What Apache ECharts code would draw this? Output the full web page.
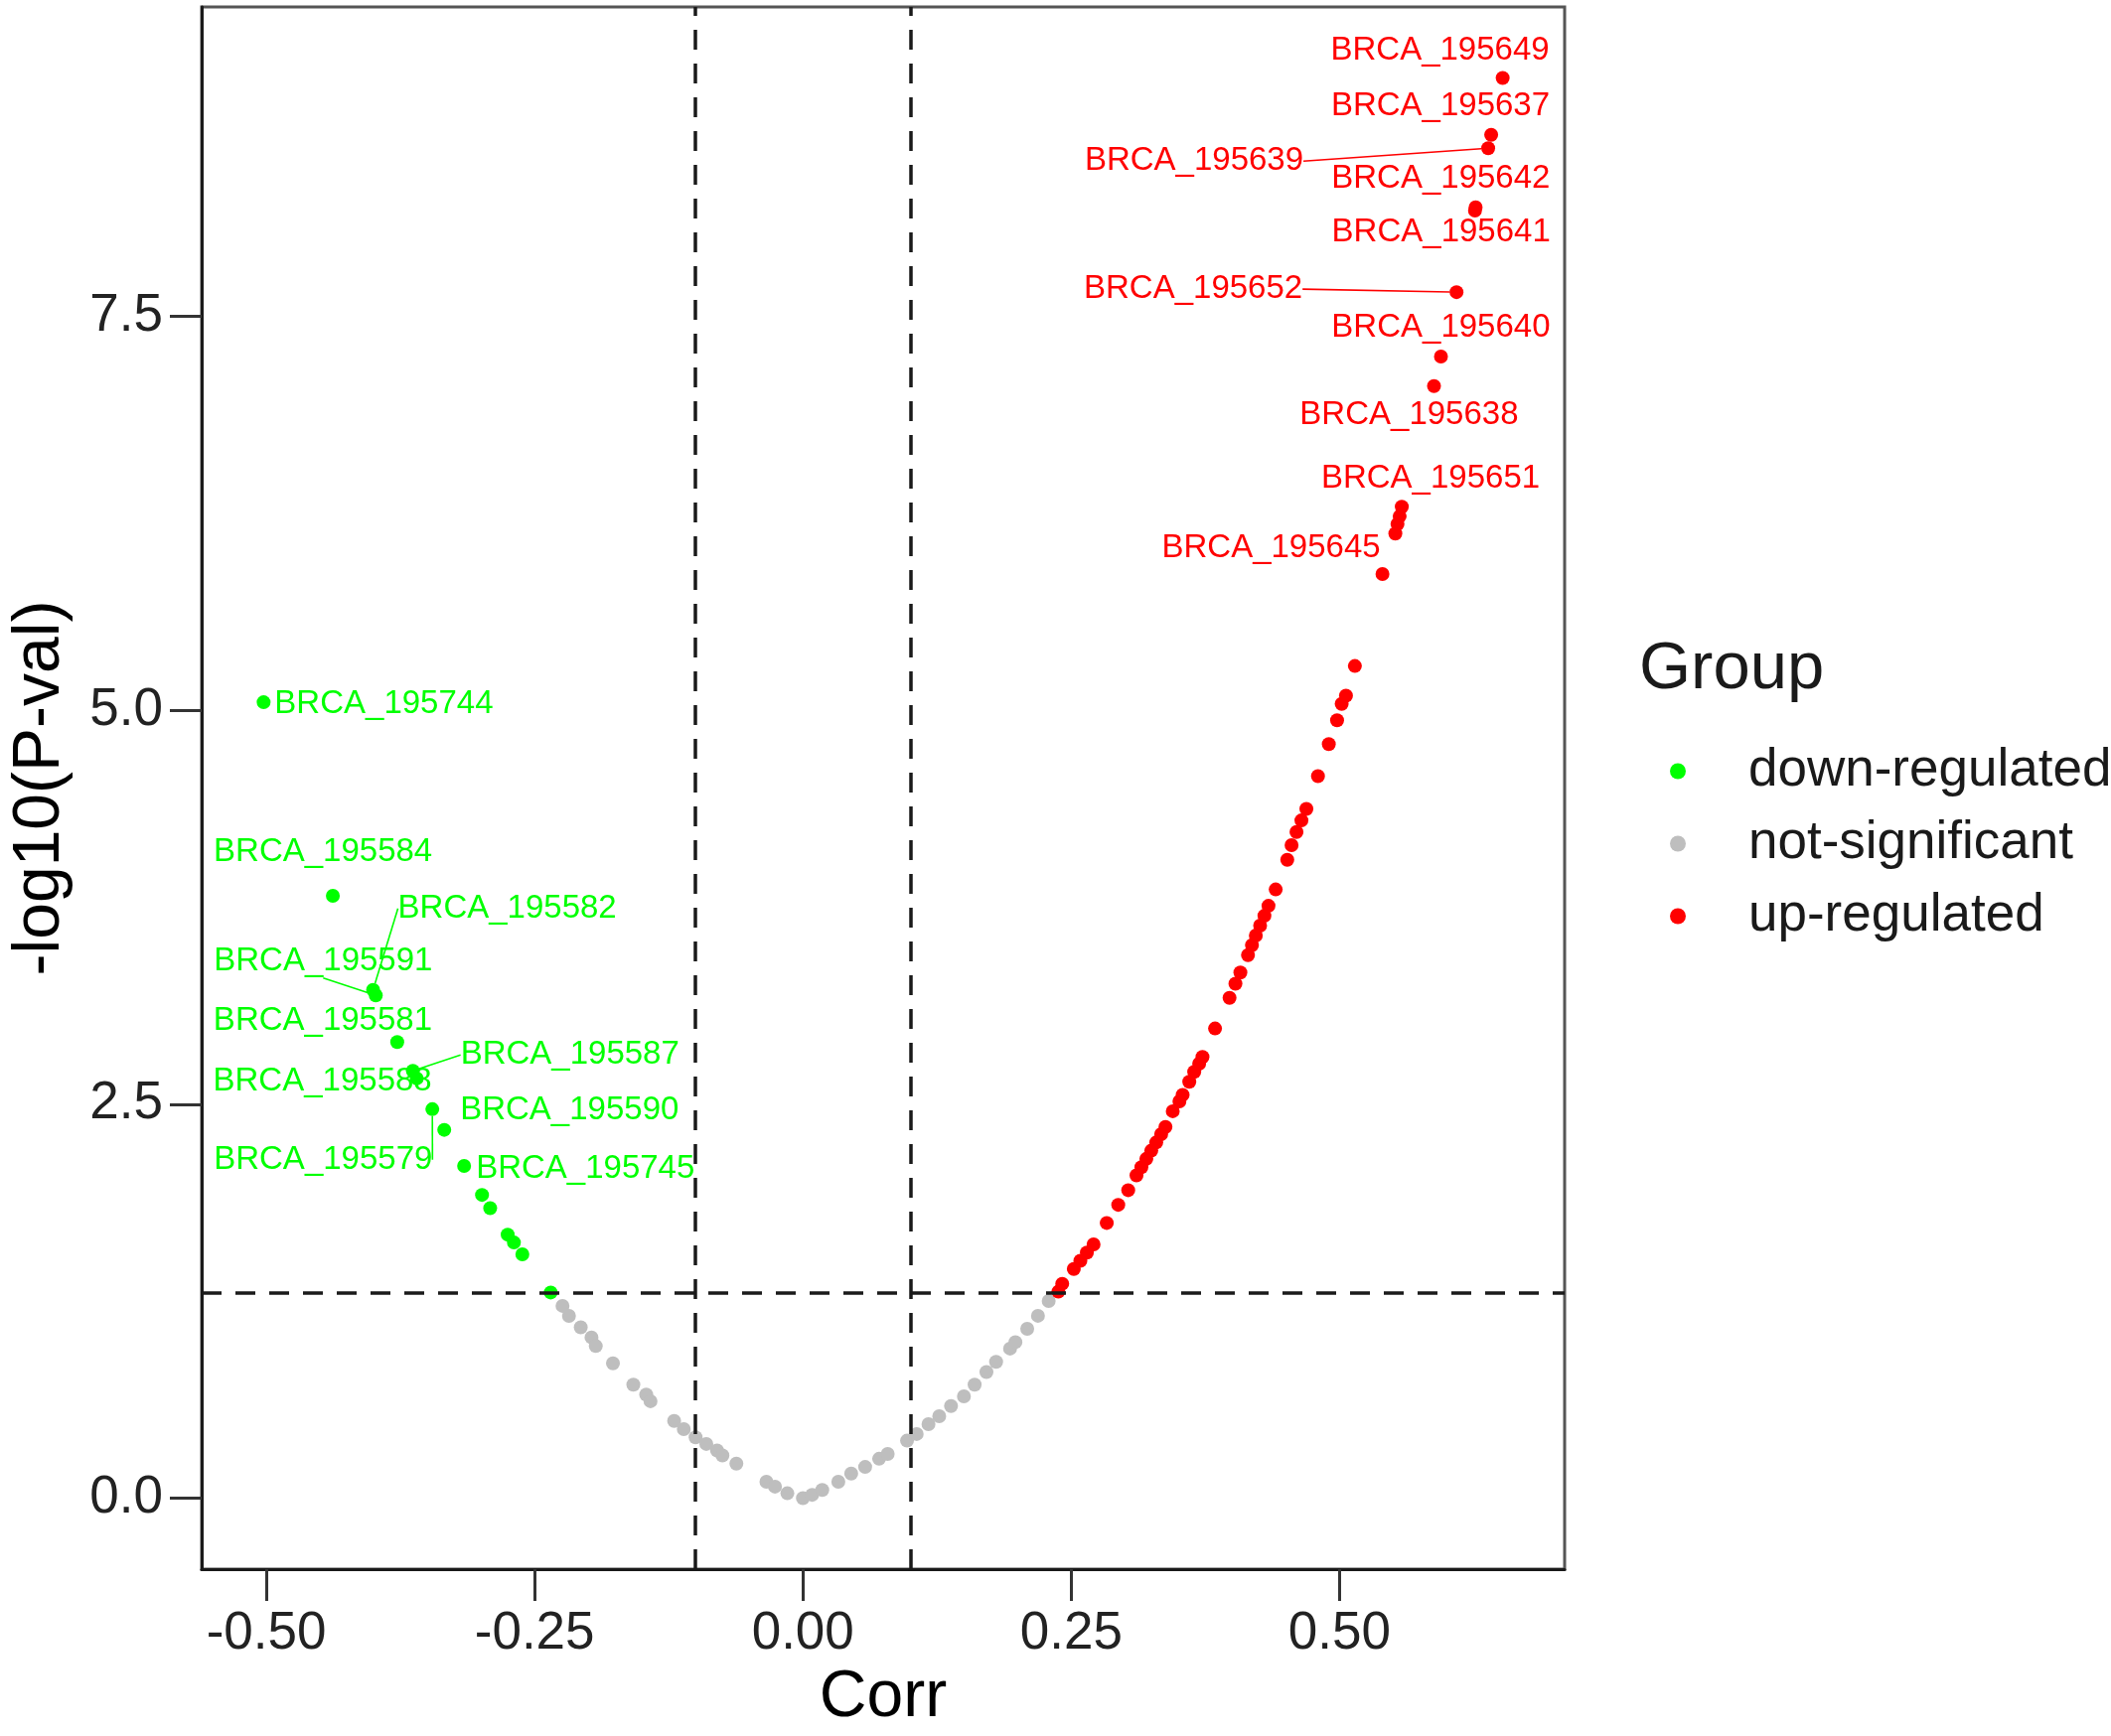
<!DOCTYPE html>
<html>
<head>
<meta charset="utf-8">
<script src="https://cdn.jsdelivr.net/npm/echarts@6/dist/echarts.min.js"></script>
<style>
  html, body { margin: 0; padding: 0; background: #ffffff; }
  #chart { width: 2125px; height: 1748px; }
</style>
</head>
<body>
<div id="chart"></div>
<script>
// ---------------- data ----------------
const downNames = ['BRCA_195744','BRCA_195584','BRCA_195582','BRCA_195591','BRCA_195581','BRCA_195587','BRCA_195588','BRCA_195579','BRCA_195590','BRCA_195745','','','','','',''];
const downCorr  = [-0.5025,-0.438,-0.4005,-0.398,-0.378,-0.3634,-0.3598,-0.3453,-0.3342,-0.3157,-0.299,-0.2914,-0.2751,-0.2693,-0.2614,-0.235];
const downLogP  = [5.05,3.822,3.225,3.19,2.894,2.711,2.663,2.468,2.337,2.108,1.924,1.84,1.672,1.622,1.547,1.305];

const nsCorr = [-0.224,-0.218,-0.207,-0.197,-0.193,-0.177,-0.158,-0.146,-0.142,-0.120,-0.111,-0.100,-0.090,-0.080,-0.075,-0.062,-0.034,-0.026,-0.0145,0.0,0.0086,0.018,0.033,0.045,0.058,0.071,0.079,0.097,0.106,0.117,0.127,0.138,0.150,0.160,0.171,0.180,0.193,0.198,0.209,0.219,0.229];
const nsLogP = [1.22,1.156,1.084,1.02,0.965,0.855,0.72,0.657,0.615,0.49,0.438,0.386,0.344,0.302,0.271,0.219,0.104,0.073,0.031,0.0,0.021,0.052,0.104,0.156,0.198,0.25,0.28,0.365,0.407,0.469,0.52,0.584,0.646,0.72,0.80,0.865,0.949,0.99,1.074,1.157,1.251];

const upNames = ['','','','','','','','','','','','','','','','','','','','','','','','','','','','','','','','','','','','','','','','','','','','','','BRCA_195645','','','','BRCA_195651','BRCA_195638','BRCA_195640','BRCA_195652','BRCA_195641','BRCA_195642','BRCA_195639','BRCA_195637','BRCA_195649'];
const upCorr  = [0.238,0.2416,0.2524,0.2585,0.2646,0.2708,0.2831,0.2938,0.3031,0.3108,0.3154,0.3200,0.3246,0.3292,0.3338,0.3378,0.3446,0.3508,0.3538,0.360,0.3646,0.3692,0.3723,0.384,0.3975,0.403,0.4076,0.4147,0.4184,0.422,0.426,0.430,0.4338,0.4405,0.4513,0.4553,0.4599,0.4645,0.4691,0.4799,0.4900,0.4977,0.502,0.506,0.5143,0.540,0.552,0.554,0.556,0.558,0.588,0.5945,0.609,0.6262,0.6268,0.6385,0.6413,0.652];
const upLogP  = [1.31,1.36,1.454,1.506,1.558,1.61,1.746,1.861,1.954,2.048,2.10,2.153,2.205,2.257,2.309,2.355,2.455,2.517,2.559,2.642,2.705,2.757,2.799,2.98,3.174,3.264,3.335,3.445,3.508,3.57,3.633,3.695,3.758,3.862,4.05,4.143,4.227,4.30,4.373,4.581,4.784,4.936,5.04,5.092,5.28,5.863,6.12,6.18,6.23,6.29,7.056,7.243,7.652,8.17,8.19,8.565,8.65,9.011];

const corrCut = [-0.1, 0.1];
const pCut = 1.301;  // -log10(0.05)
const xTicks = [-0.5, -0.25, 0, 0.25, 0.5];
const yTicks = [0, 2.5, 5, 7.5];
const groups = ['down-regulated', 'not-significant', 'up-regulated'];

// ---------------- label placement (pixel offsets from point, ggrepel-like) ----------------
const labelPlacement = {
  'BRCA_195744': [11, 2, 'left', false],
  'BRCA_195584': [-120, -44, 'left', false],
  'BRCA_195582': [25, -82, 'left', true],
  'BRCA_195591': [-163, -34, 'left', true],
  'BRCA_195581': [-185, -21, 'left', false],
  'BRCA_195587': [48, -16, 'left', true],
  'BRCA_195588': [-205, 3, 'left', false],
  'BRCA_195579': [-220, 51, 'left', true],
  'BRCA_195590': [16, -20, 'left', false],
  'BRCA_195745': [12, 3, 'left', false],
  'BRCA_195649': [47, -28, 'right', false],
  'BRCA_195637': [59, -29, 'right', false],
  'BRCA_195639': [-186, 13, 'right', true],
  'BRCA_195642': [75, -29, 'right', false],
  'BRCA_195641': [76, 22, 'right', false],
  'BRCA_195652': [-155, -3, 'right', true],
  'BRCA_195640': [110, -29, 'right', false],
  'BRCA_195638': [85, 29, 'right', false],
  'BRCA_195651': [139, -28, 'right', false],
  'BRCA_195645': [-2, -26, 'right', false]
};

const FONT = 'Liberation Sans, Arial, sans-serif';
const colors = { 'down-regulated': '#00FF00', 'not-significant': '#BEBEBE', 'up-regulated': '#FF0000' };

// ggplot-like 5% expansion of the data range
const allX = downCorr.concat(nsCorr, upCorr);
const allY = downLogP.concat(nsLogP, upLogP);
const xmin = Math.min(...allX), xmax = Math.max(...allX);
const ymin = Math.min(...allY), ymax = Math.max(...allY);
const xPad = (xmax - xmin) * 0.05, yPad = (ymax - ymin) * 0.05;

function buildData(xs, ys, names) {
  return xs.map((x, i) => {
    const nm = names ? names[i] : '';
    const item = { value: [x, ys[i]], name: nm };
    if (nm) {
      item.label = { show: true };
      item.labelLine = { show: !!(labelPlacement[nm] && labelPlacement[nm][3]) };
    } else {
      item.label = { show: false };
    }
    return item;
  });
}

function labelLayout(p) {
  const cfg = labelPlacement[p.text];
  if (!cfg) return {};
  const cx = p.rect.x + p.rect.width / 2;
  const cy = p.rect.y + p.rect.height / 2;
  return { x: cx + cfg[0], y: cy + cfg[1], align: cfg[2], verticalAlign: 'middle' };
}

function series(name, xs, ys, names, extra) {
  const c = colors[name];
  return Object.assign({
    name: name,
    type: 'scatter',
    symbol: 'circle',
    symbolSize: 14,
    itemStyle: { color: c, opacity: 1 },
    data: buildData(xs, ys, names),
    label: {
      show: false,
      formatter: '{b}',
      color: c,
      fontFamily: FONT,
      fontSize: 33
    },
    labelLine: { show: true, lineStyle: { color: c, width: 1.6 } },
    labelLayout: labelLayout,
    emphasis: { disabled: true },
    silent: true
  }, extra || {});
}

const chart = echarts.init(document.getElementById('chart'), null, { renderer: 'canvas' });
chart.setOption({
  animation: false,
  backgroundColor: '#ffffff',
  textStyle: { fontFamily: FONT },
  title: {
    text: 'Group',
    left: 1645,
    top: 636,
    textStyle: { fontSize: 67, fontWeight: 'normal', color: '#1a1a1a', fontFamily: FONT, lineHeight: 67 }
  },
  legend: {
    orient: 'vertical',
    left: 1676,
    top: 745,
    data: groups.map(g => ({ name: g, icon: 'circle' })),
    itemWidth: 132,
    itemHeight: 16,
    itemGap: 20,
    selectedMode: false,
    textStyle: { fontSize: 53, color: '#1a1a1a', fontFamily: FONT, lineHeight: 53 }
  },
  grid: {
    left: 199, right: 550, top: 7, bottom: 158,
    show: true, borderColor: '#555555', borderWidth: 3, backgroundColor: 'transparent'
  },
  xAxis: {
    type: 'value',
    min: xmin - xPad,
    max: xmax + xPad,
    name: 'Corr',
    nameLocation: 'middle',
    nameGap: 97,
    nameTextStyle: { fontSize: 66, color: '#000', fontFamily: FONT },
    axisLine: { show: true, onZero: false, lineStyle: { color: '#1a1a1a', width: 3 } },
    axisTick: { show: true, length: 32, lineStyle: { color: '#333', width: 3 }, customValues: xTicks },
    axisLabel: {
      customValues: xTicks,
      fontSize: 53, color: '#222', margin: 39, fontFamily: FONT,
      formatter: v => v.toFixed(2)
    },
    splitLine: { show: false }
  },
  yAxis: {
    type: 'value',
    min: ymin - yPad,
    max: ymax + yPad,
    name: '-log10(P-val)',
    nameLocation: 'middle',
    nameGap: 129,
    nameTextStyle: { fontSize: 66, color: '#000', fontFamily: FONT },
    axisLine: { show: true, onZero: false, lineStyle: { color: '#1a1a1a', width: 3 } },
    axisTick: { show: true, length: 32, lineStyle: { color: '#333', width: 3 }, customValues: yTicks },
    axisLabel: {
      customValues: yTicks,
      fontSize: 53, color: '#222', margin: 39, fontFamily: FONT,
      formatter: v => v.toFixed(1)
    },
    splitLine: { show: false }
  },
  series: [
    series('not-significant', nsCorr, nsLogP, null, {
      markLine: {
        silent: true,
        symbol: 'none',
        label: { show: false },
        lineStyle: { color: '#1a1a1a', width: 3.5, type: [20, 14] },
        data: [
          { xAxis: corrCut[0] },
          { xAxis: corrCut[1] },
          { yAxis: pCut }
        ]
      }
    }),
    series('down-regulated', downCorr, downLogP, downNames),
    series('up-regulated', upCorr, upLogP, upNames)
  ]
});
</script>
</body>
</html>
